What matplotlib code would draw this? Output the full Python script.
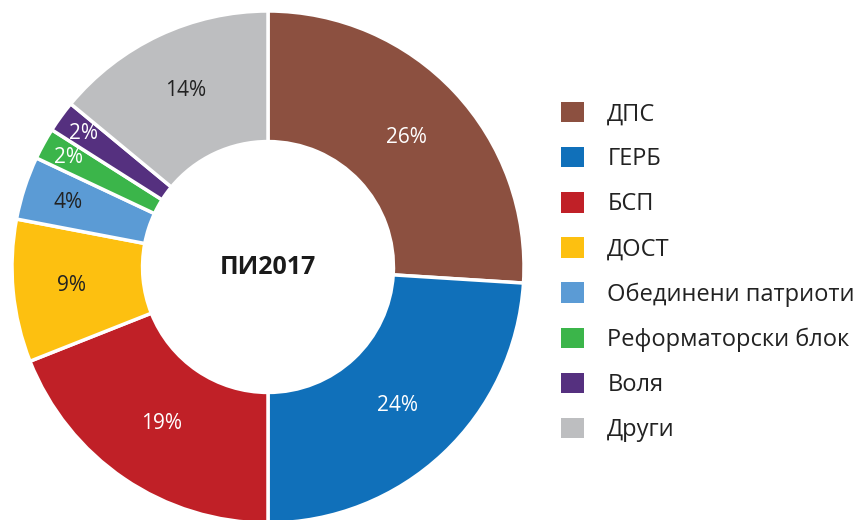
import matplotlib
matplotlib.use("Agg")
import matplotlib.pyplot as plt
from matplotlib.patches import Patch
import numpy as np

plt.rcParams['font.family'] = ['Open Sans', 'DejaVu Sans']

# data
parties = ['ДПС', 'ГЕРБ', 'БСП', 'ДОСТ', 'Обединени патриоти',
           'Реформаторски блок', 'Воля', 'Други']
shares = [26, 24, 19, 9, 4, 2, 2, 14]
colours = ['#8C5040', '#1070BA', '#C02027', '#FDC010', '#5B9BD5',
           '#3BB54A', '#55307F', '#BDBEC0']
label_colours = ['white', 'white', 'white', '#222222', '#222222',
                 'white', 'white', '#222222']
label_radius = [0.74, 0.74, 0.74, 0.77, 0.82, 0.89, 0.89, 0.76]
title = 'ПИ2017'

fig = plt.figure(figsize=(8.62, 5.2), dpi=100)
ax = fig.add_axes([12 / 862, -3 / 520, 512 / 862, 512 / 520])

wedges, _ = ax.pie(shares, colors=colours, startangle=90, counterclock=False,
                   radius=1.0, wedgeprops=dict(width=0.51, edgecolor='white', linewidth=2.5))

total = sum(shares)
for w, s, c, r in zip(wedges, shares, label_colours, label_radius):
    ang = np.deg2rad((w.theta1 + w.theta2) / 2)
    ax.text(r * np.cos(ang), r * np.sin(ang), f'{round(100 * s / total)}%',
            ha='center', va='center', fontsize=15, color=c)

ax.text(0, 0, title, ha='center', va='center', fontsize=18, fontweight='bold', color='#1a1a1a')
ax.set_xlim(-1.0, 1.0)
ax.set_ylim(-1.0, 1.0)
ax.set_aspect('equal')
ax.axis('off')

handles = [Patch(facecolor=c, edgecolor='none') for c in colours]
fig.legend(handles, parties, loc='center left', bbox_to_anchor=(540 / 862, 248 / 520),
           frameon=False, fontsize=17, handlelength=0.95, handleheight=0.95,
           handletextpad=1.0, labelspacing=0.88, labelcolor='#222222')

fig.savefig('out.png', dpi=100)
